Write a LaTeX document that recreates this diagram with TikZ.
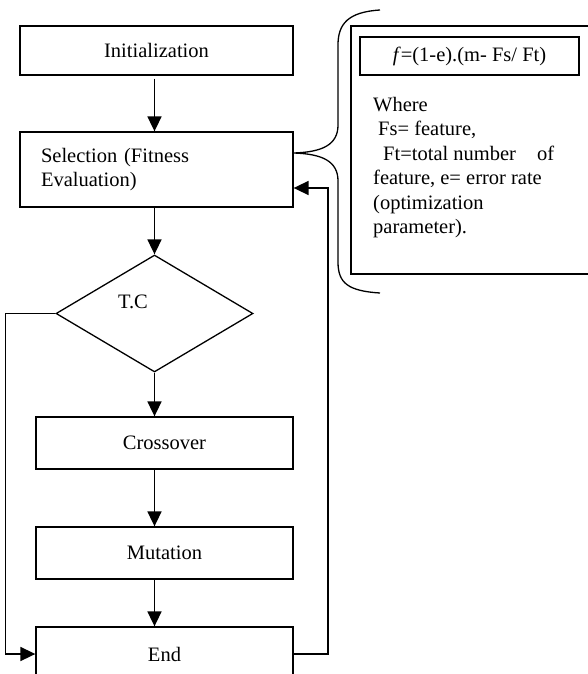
\documentclass[tikz,border=0pt]{standalone}
\usepackage{fontspec}
\setmainfont{Liberation Serif}
\usetikzlibrary{shapes.geometric,arrows.meta}

\begin{document}
\begin{tikzpicture}[x=1pt, y=-1pt,
    every node/.style={font=\fontsize{20.5}{24.4}\selectfont},
    box/.style={draw, line width=1.3pt, minimum width=257pt, minimum height=52pt, inner sep=0pt},
    flow/.style={-{Triangle[length=15pt,width=14pt]}, line width=1.7pt}]
    \clip (0,0) rectangle (588,674);

    % Main column
    \node[box, minimum width=273pt, minimum height=49pt] (init) at (156.5,50.5) {Initialization};
    \node[box, minimum width=273pt, minimum height=75pt, text width=231pt, align=left] (sel) at (156.5,169.5) {Selection (Fitness\\Evaluation)};
    \node[draw, diamond, line width=1.3pt, minimum width=197pt, minimum height=117pt, inner sep=0pt,
        label={[shift={(-21.5pt,12pt)}]center:T.C}] (tc) at (154.5,313.5) {};
    \node[box] (cross) at (164.5,443) {Crossover};
    \node[box] (mut) at (164.5,553) {Mutation};
    \node[box, minimum height=54pt] (stop) at (164.5,654) {End};

    % Arrows down
    \coordinate (spine) at (154.5,0);
    \draw[flow, shorten <=3pt] (init.south -| spine) -- (sel.north -| spine);
    \draw[flow] (sel.south -| spine) -- (tc.north);
    \draw[flow] (tc.south) -- (cross.north -| spine);
    \draw[flow] (cross.south -| spine) -- (mut.north -| spine);
    \draw[flow] (mut.south -| spine) -- (stop.north -| spine);

    % Loops
    \draw[flow] (tc.west) -- ++(-50,0) |- (stop.west);
    \coordinate (back) at (328,188);
    \draw[flow] (stop.east) -| (back) -- (back -| sel.east);

    % Brace
    \draw[line width=1.3pt] (380,10) .. controls (348,12) and (338,24) .. (338,45) -- (338,125)
        .. controls (338,145) and (322,152) .. (294,153)
        .. controls (322,154) and (338,161) .. (338,181) -- (338,262)
        .. controls (338,283) and (348,291) .. (380,293);

    % Note
    \draw[line width=1.3pt] (351,26) rectangle (600,274);
    \node[draw, line width=1.3pt, minimum width=219pt, minimum height=38pt, inner sep=0pt] (formula) at (469.5,56) {\textit{f}=(1-e).(m- Fs/ Ft)};
    \node[anchor=north west, align=left, inner sep=0pt] (where) at (373,97) {Where\\\hspace*{5pt}Fs= feature,\\\hspace*{10pt}Ft=total number\hspace*{16pt} of\\feature, e= error rate\\(optimization\\parameter).};
\end{tikzpicture}
\end{document}
